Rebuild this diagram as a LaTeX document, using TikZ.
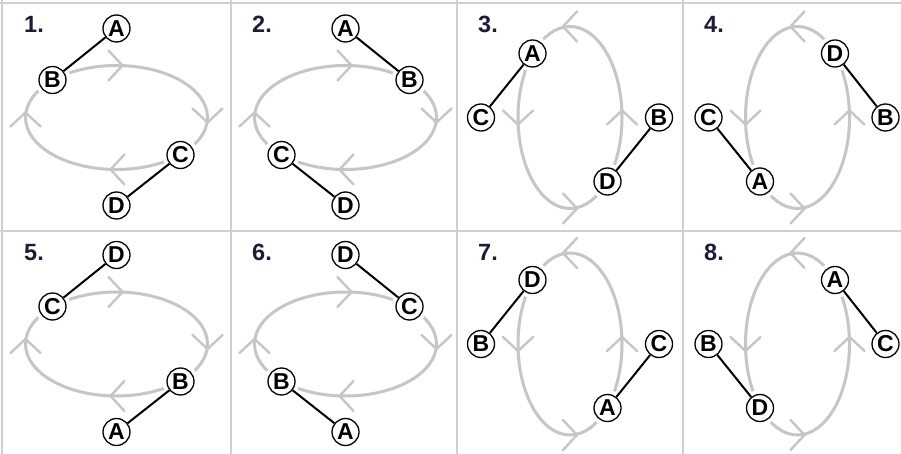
\documentclass[tikz,border=0pt]{standalone}
\usepackage{fontspec}
\setmainfont{Liberation Sans}
\newfontfamily\lblfont{Liberation Sans}[Scale=1.0]
\definecolor{ringgray}{HTML}{C6C6C6}
\definecolor{gridgray}{HTML}{CFCFCF}
\definecolor{numcol}{HTML}{1C1C3A}
\tikzset{
  ring/.style={draw=ringgray, line width=3pt},
  chev/.style={draw=ringgray, line width=2.4pt, line cap=round, line join=miter},
  gridline/.style={draw=gridgray, line width=2pt},
  lbl/.style={circle, draw=black, line width=1.3pt, fill=white, minimum size=27pt, inner sep=0pt,
    font=\lblfont\bfseries\fontsize{23}{23}\selectfont, preaction={draw=white, line width=9pt}},
  conn/.style={draw=black, line width=2pt},
  num/.style={anchor=base west, inner sep=0pt, text=numcol, font=\lblfont\bfseries\fontsize{23.5}{23.5}\selectfont}
}
\newcommand{\hring}{%
  \draw[ring] (0,0) ellipse [x radius=91pt, y radius=52pt];
  \draw[chev] (-8,-67) -- (6,-52) -- (-8,-37);
  \draw[chev] (76,-9) -- (91,5) -- (106,-9);
  \draw[chev] (8,37) -- (-6,52) -- (8,67);
  \draw[chev] (-106,9) -- (-91,-5) -- (-76,9);
}
\newcommand{\vring}{%
  \draw[ring] (0,0) ellipse [x radius=52pt, y radius=91pt];
  \draw[chev] (7,-106) -- (-7,-91) -- (7,-76);
  \draw[chev] (-67,-7) -- (-52,7) -- (-37,-7);
  \draw[chev] (-7,76) -- (7,91) -- (-7,106);
  \draw[chev] (37,7) -- (52,-7) -- (67,7);
}
\begin{document}
\begin{tikzpicture}[x=1pt,y=-1pt]
\useasboundingbox (0,0) rectangle (901,454);
\fill[white] (0,0) rectangle (901,454);
% grid
\draw[gridline] (0,3) -- (901,3);
\draw[gridline] (0,231) -- (901,231);
\draw[gridline] (2,0) -- (2,454);
\draw[gridline] (231,0) -- (231,454);
\draw[gridline] (457,0) -- (457,454);
\draw[gridline] (683,0) -- (683,454);
% numbers
\node[num] (n1) at (24,33) {1.};
\node[num] (n2) at (252,33) {2.};
\node[num] (n3) at (478,33) {3.};
\node[num] (n4) at (704,33) {4.};
\node[num] (n5) at (24,260) {5.};
\node[num] (n6) at (252,260) {6.};
\node[num] (n7) at (478,260) {7.};
\node[num] (n8) at (704,260) {8.};
% panel 1
\begin{scope}[shift={(116.5,117.5)}]
  \hring
  \node[lbl] (p1A) at (0,-89) {A};
  \node[lbl] (p1B) at (-64,-37.5) {B};
  \node[lbl] (p1C) at (64,37.5) {C};
  \node[lbl] (p1D) at (0,88) {D};
  \draw[conn] (p1A) -- (p1B);
  \draw[conn] (p1C) -- (p1D);
\end{scope}
% panel 2
\begin{scope}[shift={(345.5,117.5)}]
  \hring
  \node[lbl] (p2A) at (0,-89) {A};
  \node[lbl] (p2B) at (64,-37.5) {B};
  \node[lbl] (p2C) at (-64,37.5) {C};
  \node[lbl] (p2D) at (0,88) {D};
  \draw[conn] (p2A) -- (p2B);
  \draw[conn] (p2C) -- (p2D);
\end{scope}
% panel 3
\begin{scope}[shift={(570,117.5)}]
  \vring
  \node[lbl] (p3A) at (-37.5,-64) {A};
  \node[lbl] (p3C) at (-89,0) {C};
  \node[lbl] (p3B) at (89,0) {B};
  \node[lbl] (p3D) at (37.5,64) {D};
  \draw[conn] (p3A) -- (p3C);
  \draw[conn] (p3D) -- (p3B);
\end{scope}
% panel 4
\begin{scope}[shift={(797.5,117.5)}]
  \vring
  \node[lbl] (p4D) at (37.5,-64) {D};
  \node[lbl] (p4B) at (88,0) {B};
  \node[lbl] (p4C) at (-89,0) {C};
  \node[lbl] (p4A) at (-37.5,64) {A};
  \draw[conn] (p4D) -- (p4B);
  \draw[conn] (p4C) -- (p4A);
\end{scope}
% panel 5
\begin{scope}[shift={(116.5,344)}]
  \hring
  \node[lbl] (p5D) at (0,-89) {D};
  \node[lbl] (p5C) at (-64,-37.5) {C};
  \node[lbl] (p5B) at (64,37.5) {B};
  \node[lbl] (p5A) at (0,88) {A};
  \draw[conn] (p5D) -- (p5C);
  \draw[conn] (p5B) -- (p5A);
\end{scope}
% panel 6
\begin{scope}[shift={(345.5,344)}]
  \hring
  \node[lbl] (p6D) at (0,-89) {D};
  \node[lbl] (p6C) at (64,-37.5) {C};
  \node[lbl] (p6B) at (-64,37.5) {B};
  \node[lbl] (p6A) at (0,88) {A};
  \draw[conn] (p6D) -- (p6C);
  \draw[conn] (p6B) -- (p6A);
\end{scope}
% panel 7
\begin{scope}[shift={(570,344)}]
  \vring
  \node[lbl] (p7D) at (-37.5,-64) {D};
  \node[lbl] (p7B) at (-89,0) {B};
  \node[lbl] (p7C) at (89,0) {C};
  \node[lbl] (p7A) at (37.5,64) {A};
  \draw[conn] (p7D) -- (p7B);
  \draw[conn] (p7A) -- (p7C);
\end{scope}
% panel 8
\begin{scope}[shift={(797.5,344)}]
  \vring
  \node[lbl] (p8A) at (37.5,-64) {A};
  \node[lbl] (p8C) at (88,0) {C};
  \node[lbl] (p8B) at (-89,0) {B};
  \node[lbl] (p8D) at (-37.5,64) {D};
  \draw[conn] (p8A) -- (p8C);
  \draw[conn] (p8B) -- (p8D);
\end{scope}
\end{tikzpicture}
\end{document}
